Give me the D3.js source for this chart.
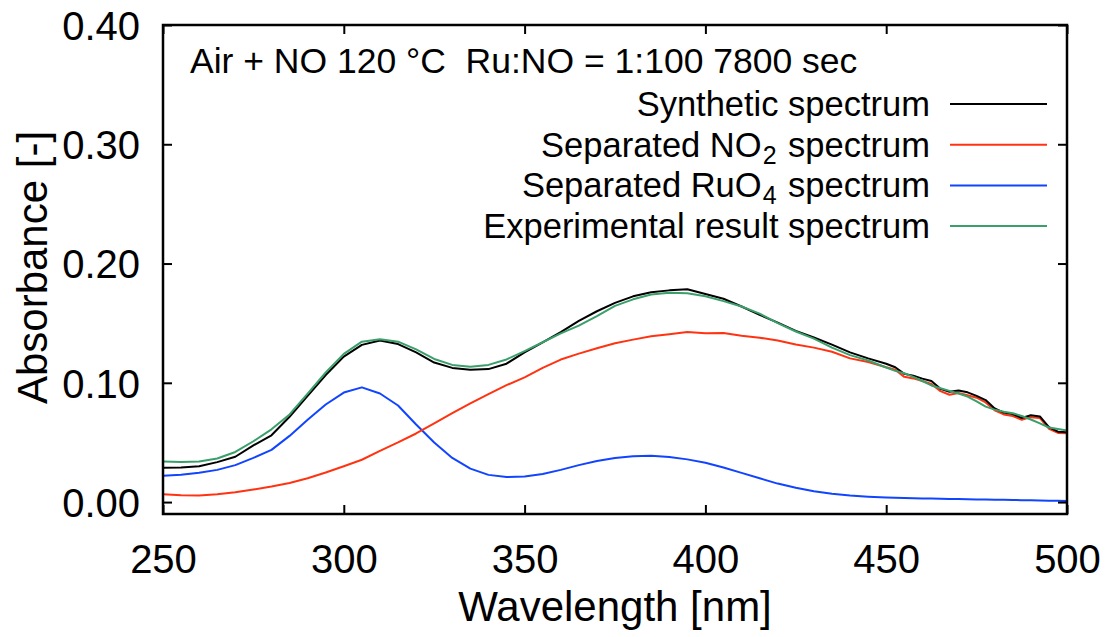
<!DOCTYPE html>
<html>
<head>
<meta charset="utf-8">
<script src="https://cdn.jsdelivr.net/npm/d3@7"></script>
<style>
  body { margin: 0; background: #fff; }
  svg { font-family: "Liberation Sans", Arial, sans-serif; }
</style>
</head>
<body>
<svg id="canvas" width="1115" height="637"></svg>
<script>
/* global d3 */

// wavelengths [nm]: 5 nm steps, then 2.5 nm steps in the wavy tail
const wavelengths = [
  250, 255, 260, 265, 270, 275, 280, 285, 290, 295,
  300, 305, 310, 315, 320, 325, 330, 335, 340, 345,
  350, 355, 360, 365, 370, 375, 380, 385, 390, 395,
  400, 405, 410, 415, 420, 425, 430, 435, 440, 445,
  450, 452.5, 455, 457.5, 460, 462.5, 465, 467.5, 470, 472.5,
  475, 477.5, 480, 482.5, 485, 487.5, 490, 492.5, 495, 497.5, 500,
];

const synthetic = [
  0.0288, 0.029, 0.030, 0.0335, 0.038, 0.0475, 0.056, 0.0715, 0.089, 0.1065,
  0.122, 0.1318, 0.1355, 0.1325, 0.1255, 0.117, 0.1125, 0.111, 0.1115, 0.116,
  0.1255, 0.134, 0.1425, 0.152, 0.160, 0.167, 0.1725, 0.176, 0.1775, 0.1785,
  0.1745, 0.1705, 0.164, 0.157, 0.1505, 0.1435, 0.138, 0.132, 0.1255, 0.1205,
  0.116, 0.113, 0.1075, 0.106, 0.1035, 0.1015, 0.095, 0.0925, 0.0935, 0.092,
  0.089, 0.0855, 0.0785, 0.075, 0.0738, 0.0705, 0.0728, 0.0718, 0.0628, 0.059, 0.0585,
];

const no2 = [
  0.0065, 0.0057, 0.0055, 0.0065, 0.0082, 0.0105, 0.013, 0.016, 0.020, 0.0248,
  0.030, 0.0355, 0.043, 0.050, 0.0575, 0.066, 0.0745, 0.0828, 0.0905, 0.098,
  0.1045, 0.1125, 0.1195, 0.1245, 0.129, 0.1332, 0.1362, 0.139, 0.1408, 0.1425,
  0.1416, 0.1418, 0.1395, 0.1378, 0.1355, 0.1322, 0.1295, 0.126, 0.1205, 0.1174,
  0.113, 0.111, 0.105, 0.1037, 0.1015, 0.099, 0.093, 0.090, 0.0915, 0.0895,
  0.0875, 0.0835, 0.077, 0.0735, 0.0722, 0.069, 0.0712, 0.0705, 0.0615, 0.058, 0.0576,
];

const ruo4 = [
  0.022, 0.023, 0.0245, 0.027, 0.031, 0.037, 0.0438, 0.0555, 0.069, 0.0818,
  0.0918, 0.0962, 0.091, 0.081, 0.065, 0.050, 0.037, 0.028, 0.0228, 0.021,
  0.0215, 0.0235, 0.027, 0.031, 0.0345, 0.037, 0.0385, 0.0388, 0.0378, 0.0358,
  0.033, 0.029, 0.0245, 0.020, 0.0155, 0.012, 0.009, 0.007, 0.0055, 0.0045,
  0.0038, 0.0036, 0.0034, 0.0032, 0.0030, 0.0029, 0.0028, 0.0026, 0.0025, 0.0024,
  0.0022, 0.0021, 0.0020, 0.0019, 0.0017, 0.0016, 0.0015, 0.0014, 0.0012, 0.0011, 0.001,
];

const experimental = [
  0.034, 0.0335, 0.034, 0.0365, 0.042, 0.051, 0.061, 0.0735, 0.091, 0.1087,
  0.1243, 0.1345, 0.1366, 0.1345, 0.128, 0.12, 0.115, 0.1134, 0.115, 0.1196,
  0.1265, 0.134, 0.1415, 0.148, 0.156, 0.1645, 0.170, 0.174, 0.1755, 0.175,
  0.1725, 0.1685, 0.164, 0.158, 0.150, 0.143, 0.137, 0.1295, 0.1232, 0.1187,
  0.1128, 0.110, 0.108, 0.105, 0.1015, 0.0978, 0.0955, 0.0932, 0.091, 0.0885,
  0.0845, 0.080, 0.0775, 0.0758, 0.0745, 0.0722, 0.0692, 0.066, 0.0625, 0.0612, 0.060,
];

const xTicks = [250, 300, 350, 400, 450, 500];
const yTicks = [0.0, 0.1, 0.2, 0.3, 0.4];

const series = [
  { name: 'Separated RuO', sub: '4', values: ruo4, color: '#1144ff', row: 2 },
  { name: 'Separated NO', sub: '2', values: no2, color: '#ff3311', row: 1 },
  { name: 'Synthetic spectrum', sub: null, values: synthetic, color: '#000000', row: 0 },
  { name: 'Experimental result spectrum', sub: null, values: experimental, color: '#3a9f6a', row: 3 },
];

const svg = d3.select('#canvas');
const margin = { top: 25, right: 48, bottom: 123, left: 163 };
const width = 1115 - margin.left - margin.right;
const height = 637 - margin.top - margin.bottom;

const x = d3.scaleLinear().domain([250, 500]).range([0, width]);
const y = d3.scaleLinear().domain([-0.01, 0.40]).range([height, 0]);

const g = svg.append('g').attr('transform', `translate(${margin.left},${margin.top})`);

g.append('clipPath').attr('id', 'clip')
  .append('rect').attr('width', width).attr('height', height);

// curves
const line = d3.line()
  .x((d, i) => x(wavelengths[i]))
  .y(d => y(d));

g.append('g').attr('clip-path', 'url(#clip)')
  .selectAll('path')
  .data(series)
  .enter()
  .append('path')
  .attr('d', d => line(d.values))
  .attr('fill', 'none')
  .attr('stroke', d => d.color)
  .attr('stroke-width', 2)
  .attr('stroke-linejoin', 'round');

// axes with inward ticks on all four sides
const tickLen = 9;
const fmt = d3.format('.2f');

const axBottom = g.append('g').attr('transform', `translate(0,${height})`)
  .call(d3.axisBottom(x).tickValues(xTicks).tickSizeInner(-tickLen).tickSizeOuter(0).tickPadding(31));
const axTop = g.append('g')
  .call(d3.axisTop(x).tickValues(xTicks).tickSizeInner(-tickLen).tickSizeOuter(0).tickFormat(''));
const axLeft = g.append('g')
  .call(d3.axisLeft(y).tickValues(yTicks).tickSizeInner(-tickLen).tickSizeOuter(0).tickPadding(23).tickFormat(fmt));
const axRight = g.append('g').attr('transform', `translate(${width},0)`)
  .call(d3.axisRight(y).tickValues(yTicks).tickSizeInner(-tickLen).tickSizeOuter(0).tickFormat(''));

[axBottom, axTop, axLeft, axRight].forEach((ax) => {
  ax.select('.domain').remove();
  ax.selectAll('.tick line').attr('stroke', '#000').attr('stroke-width', 2);
  ax.selectAll('.tick text')
    .attr('fill', '#000')
    .style('font-size', '40px')
    .style('font-family', '"Liberation Sans", Arial, sans-serif');
});
axBottom.selectAll('.tick text').attr('dy', '0.71em');
axLeft.selectAll('.tick text').attr('dy', '0.36em');

g.append('rect')
  .attr('width', width)
  .attr('height', height)
  .attr('fill', 'none')
  .attr('stroke', '#000')
  .attr('stroke-width', 2.5);

// axis titles
svg.append('text')
  .attr('x', margin.left + width / 2)
  .attr('y', 621)
  .attr('text-anchor', 'middle')
  .style('font-size', '42px')
  .text('Wavelength [nm]');

svg.append('text')
  .attr('transform', `translate(47,${margin.top + height / 2 - 2}) rotate(-90)`)
  .attr('text-anchor', 'middle')
  .style('font-size', '42px')
  .text('Absorbance [-]');

// condition note
g.append('text')
  .attr('x', 27)
  .attr('y', 48)
  .style('font-size', '35.5px')
  .style('white-space', 'pre')
  .text('Air + NO 120 °C  Ru:NO = 1:100 7800 sec');

// legend
const legend = g.append('g');
const rowY = row => 79 + row * 40.7;

series.forEach((s) => {
  const t = legend.append('text')
    .attr('x', 767)
    .attr('y', rowY(s.row))
    .attr('dy', '0.35em')
    .attr('text-anchor', 'end')
    .style('font-size', '34.5px');
  t.append('tspan').text(s.name);
  if (s.sub) {
    t.append('tspan').attr('dy', 7).attr('dx', 1).style('font-size', '25px').text(s.sub);
    t.append('tspan').attr('dy', -7).attr('dx', 2).text(' spectrum');
  }
  legend.append('line')
    .attr('x1', 787)
    .attr('x2', 884)
    .attr('y1', rowY(s.row))
    .attr('y2', rowY(s.row))
    .attr('stroke', s.color)
    .attr('stroke-width', 2);
});
</script>
</body>
</html>
